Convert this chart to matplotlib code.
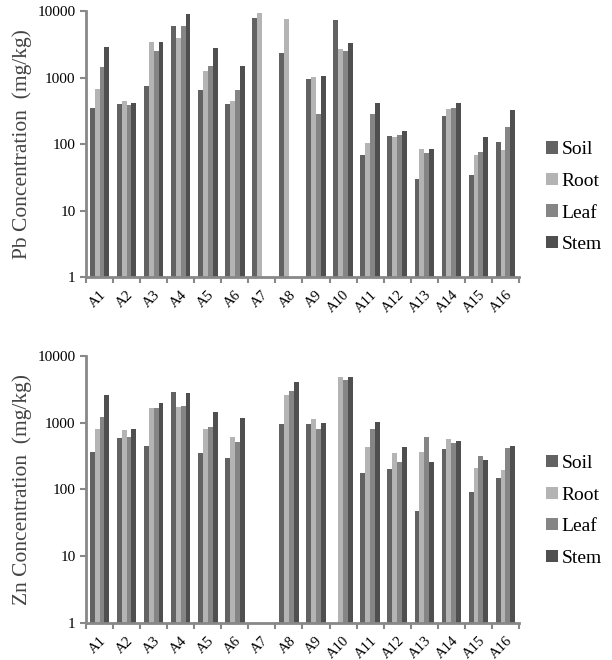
import numpy as np
import matplotlib
matplotlib.use('Agg')
import matplotlib.pyplot as plt

plt.rcParams['font.family'] = ['Liberation Serif', 'DejaVu Serif']

sites = ['A%d' % i for i in range(1, 17)]
parts = ['Soil', 'Root', 'Leaf', 'Stem']
nan = np.nan

# Pb concentration (mg/kg), nan = not measured
pb_soil = [345, 406, 739, 5960, 651, 396, 7760, 2340, 963, 7240, 68, 133, 29.6, 262, 34, 108]
pb_root = [674, 440, 3420, 3930, 1256, 445, 9330, 7670, 1009, 2720, 103, 128, 83.6, 334, 68, 82]
pb_leaf = [1425, 383, 2536, 5960, 1510, 658, nan, nan, 284, 2540, 287, 139, 74.5, 345, 76, 181]
pb_stem = [2910, 415, 3383, 9120, 2750, 1475, nan, nan, 1057, 3270, 420, 158, 85.6, 411, 128, 326]

# Zn concentration (mg/kg)
zn_soil = [359, 582, 447, 2917, 355, 295, nan, 966, 966, nan, 176, 204, 48.4, 407, 91, 148]
zn_root = [804, 767, 1641, 1718, 804, 610, nan, 2600, 1122, 4898, 437, 347, 359, 569, 209, 195]
zn_leaf = [1202, 610, 1641, 1758, 861, 513, nan, 2985, 813, 4315, 813, 254, 617, 501, 316, 422]
zn_stem = [2600, 813, 1972, 2818, 1429, 1161, nan, 4074, 977, 4842, 1012, 432, 254, 531, 275, 447]

colors = ['#626262', '#b4b4b4', '#858585', '#4f4f4f']
axis_col = '#888888'

fig = plt.figure(figsize=(6.12, 6.6), dpi=100)
ax1 = fig.add_axes([0.1405, 0.5803, 0.7075, 0.403])
ax2 = fig.add_axes([0.1405, 0.0561, 0.7075, 0.4045])

x = np.arange(len(sites))
w = 0.18


def draw(ax, series, ylabel, leg_y):
    for i, (vals, c) in enumerate(zip(series, colors)):
        ax.bar(x + (i - 1.5) * w, vals, w, color=c, label=parts[i])
    ax.set_yscale('log')
    ax.set_ylim(1, 10000)
    ax.set_xlim(-0.5, len(sites) - 0.5)
    ax.set_yticks([1, 10, 100, 1000, 10000])
    ax.set_yticklabels(['1', '10', '100', '1000', '10000'])
    ax.yaxis.set_minor_locator(matplotlib.ticker.NullLocator())
    ax.set_xticks(x)
    ax.set_xticklabels(sites, rotation=45, ha='right', rotation_mode='anchor')
    ax.set_xticks(np.arange(-0.5, len(sites)), minor=True)
    ax.tick_params(axis='x', which='major', length=0, pad=8, labelsize=10.5)
    ax.tick_params(axis='x', which='minor', length=4, width=1.5, color=axis_col)
    ax.tick_params(axis='y', which='major', length=4, width=1.5, color=axis_col,
                   labelsize=11)
    for s in ['top', 'right']:
        ax.spines[s].set_visible(False)
    for s in ['left', 'bottom']:
        ax.spines[s].set_color(axis_col)
        ax.spines[s].set_linewidth(2)
    ax.set_ylabel(ylabel, fontsize=15.5, color='#444444', labelpad=4)
    ax.legend(loc='center left', bbox_to_anchor=(1.04, leg_y), frameon=False,
              fontsize=14, handlelength=0.6, handleheight=0.6,
              handletextpad=0.2, labelspacing=0.75, borderpad=0)


draw(ax1, [pb_soil, pb_root, pb_leaf, pb_stem], 'Pb Concentration  (mg/kg)', 0.30)
draw(ax2, [zn_soil, zn_root, zn_leaf, zn_stem], 'Zn Concentration  (mg/kg)', 0.42)

fig.savefig('out.png', dpi=100)
